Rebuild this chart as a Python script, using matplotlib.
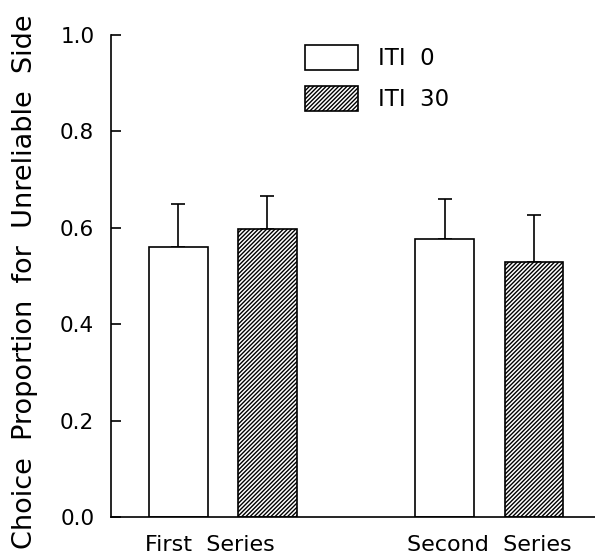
import matplotlib
matplotlib.use("Agg")
import matplotlib.pyplot as plt
import numpy as np

plt.rcParams['font.family'] = ['DejaVu Sans']
plt.rcParams['hatch.linewidth'] = 1.0

categories = ["First  Series", "Second  Series"]
series_names = ["ITI  0", "ITI  30"]
iti0_means = [0.56, 0.577]
iti0_err = [0.089, 0.083]
iti30_means = [0.598, 0.529]
iti30_err = [0.068, 0.098]
yticks = [0.0, 0.2, 0.4, 0.6, 0.8, 1.0]

fig = plt.figure(figsize=(5.95, 5.56), dpi=100)
ax = fig.add_axes([111/595, 39/556, 1 - 111/595, (517-35)/556])

x = np.arange(len(categories))
w = 0.221
off = 0.167
lw = 1.2

b1 = ax.bar(x - off, iti0_means, w, facecolor='white', edgecolor='black', linewidth=lw, label=series_names[0], zorder=2)
b2 = ax.bar(x + off, iti30_means, w, facecolor='white', edgecolor='black', linewidth=lw, hatch='////////', label=series_names[1], zorder=2)

ax.errorbar(x - off, iti0_means, yerr=[np.zeros(2), iti0_err], fmt='none', ecolor='black', elinewidth=lw, capsize=4.7, capthick=lw, zorder=1)
ax.errorbar(x + off, iti30_means, yerr=[np.zeros(2), iti30_err], fmt='none', ecolor='black', elinewidth=lw, capsize=4.7, capthick=lw, zorder=1)

ax.set_xlim(-0.42, 1.396)
ax.set_ylim(0, 1.0)
ax.set_yticks(yticks)
ax.set_yticklabels([f"{t:.1f}" for t in yticks], fontsize=15.5)
ax.tick_params(axis='y', direction='in', length=7.2, width=lw, pad=12)
ax.set_xticks(x + np.array([-0.049, 0.0]))
ax.set_xticklabels(categories, fontsize=16)
ax.tick_params(axis='x', length=0, pad=13)
for s in ['top', 'right']:
    ax.spines[s].set_visible(False)
for s in ['left', 'bottom']:
    ax.spines[s].set_linewidth(lw)

ax.set_ylabel("Choice  Proportion  for  Unreliable  Side", fontsize=19.5)
ax.yaxis.set_label_coords(-0.151, 0.4876)

leg = ax.legend(loc='upper left', bbox_to_anchor=(305/595, 1 - 45/556), bbox_transform=fig.transFigure,
                frameon=False, fontsize=16.5, handlelength=2.3, handleheight=1.3,
                labelspacing=0.7, handletextpad=0.9, borderpad=0, borderaxespad=0)

fig.savefig("out.png", dpi=100)
